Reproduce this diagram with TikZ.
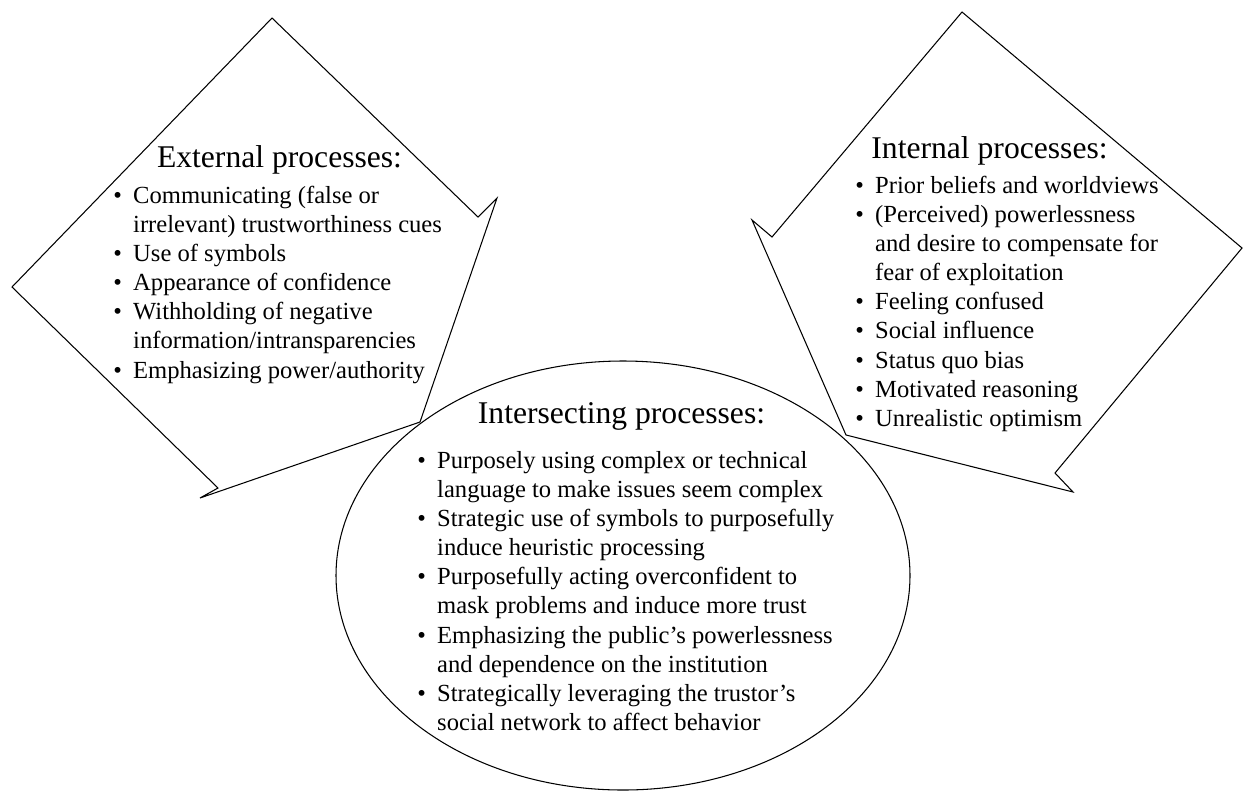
\documentclass[tikz,border=0pt]{standalone}
\usepackage{fontspec}
\setmainfont{Liberation Serif}
\newcommand{\procheadfont}{\fontsize{18}{21}\selectfont}
\newcommand{\proclistfont}{\fontsize{14}{16.6}\selectfont}
\newcommand{\proclist}[1]{\begin{tabular}[t]{@{}l@{\hspace{6.4pt}}l@{}}#1\end{tabular}}
\begin{document}
\begin{tikzpicture}[
  x=0.02cm, y=-0.02cm,
  outline/.style={draw, line width=0.6pt, line join=miter, fill=white},
  heading/.style={font=\procheadfont, anchor=base, inner sep=0pt},
  itemlist/.style={font=\proclistfont, anchor=base west, inner sep=0pt}
]
\useasboundingbox (0,0) rectangle (1243,792);

\draw[outline] (272,18) -- (478,217) -- (497,198) -- (420,422) -- (200,498)
  -- (218,488) -- (12,287) -- cycle;
\draw[outline] (962,12) -- (1242,248) -- (1055,473) -- (1073,492) -- (846,435)
  -- (752,220) -- (772,237) -- cycle;
\draw[outline] (623,575.5) ellipse [x radius=287, y radius=214.5];

\node[heading] (exthead) at (279.5,167) {External processes:};
\node[itemlist] (extlist) at (113,203) {\proclist{%
  \textbullet & Communicating (false or\\
              & irrelevant) trustworthiness cues\\
  \textbullet & Use of symbols\\
  \textbullet & Appearance of confidence\\
  \textbullet & Withholding of negative\\
              & information/intransparencies\\
  \textbullet & Emphasizing power/authority}};

\node[heading] (inthead) at (989.5,158) {Internal processes:};
\node[itemlist] (intlist) at (855,193) {\proclist{%
  \textbullet & Prior beliefs and worldviews\\
  \textbullet & (Perceived) powerlessness\\
              & and desire to compensate for\\
              & fear of exploitation\\
  \textbullet & Feeling confused\\
  \textbullet & Social influence\\
  \textbullet & Status quo bias\\
  \textbullet & Motivated reasoning\\
  \textbullet & Unrealistic optimism}};

\node[heading] (sechead) at (621.5,423) {Intersecting processes:};
\node[itemlist] (seclist) at (417,468) {\proclist{%
  \textbullet & Purposely using complex or technical\\
              & language to make issues seem complex\\
  \textbullet & Strategic use of symbols to purposefully\\
              & induce heuristic processing\\
  \textbullet & Purposefully acting overconfident to\\
              & mask problems and induce more trust\\
  \textbullet & Emphasizing the public’s powerlessness\\
              & and dependence on the institution\\
  \textbullet & Strategically leveraging the trustor’s\\
              & social network to affect behavior}};
\end{tikzpicture}
\end{document}
